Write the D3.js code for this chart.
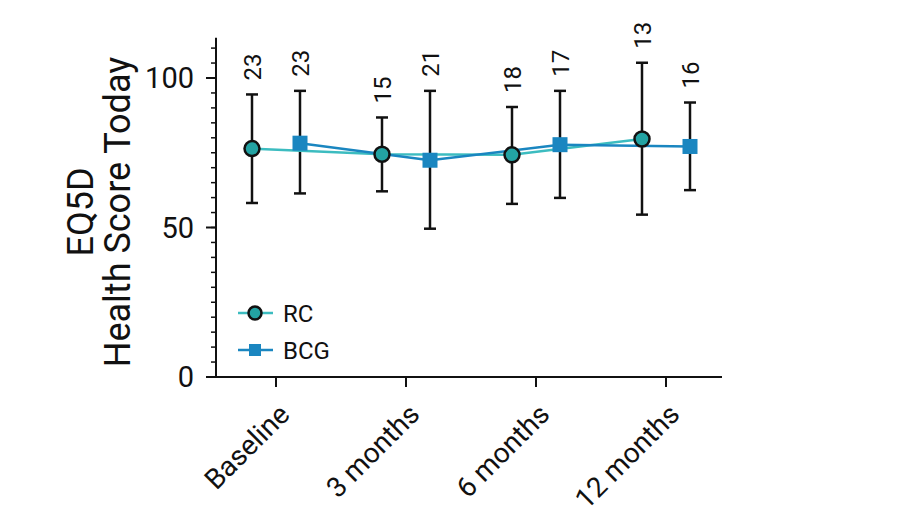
<!DOCTYPE html>
<html>
<head>
<meta charset="utf-8">
<script src="https://cdn.jsdelivr.net/npm/d3@7"></script>
<style>
  html, body { margin: 0; padding: 0; background: #fff; }
  svg text { font-family: Roboto, "Liberation Sans", sans-serif; fill: #111; }
</style>
</head>
<body>
<div id="chart"></div>
<script>
(function() {

  // data
  var categories = ["Baseline", "3 months", "6 months", "12 months"];
  var rcMean  = [76.4, 74.5, 74.3, 79.6];
  var rcLow   = [58.2, 62.1, 57.9, 54.3];
  var rcHigh  = [94.5, 86.8, 90.3, 105.1];
  var rcN     = [23, 15, 18, 13];
  var bcgMean = [78.2, 72.5, 77.7, 77.1];
  var bcgLow  = [61.4, 49.6, 59.9, 62.5];
  var bcgHigh = [95.7, 95.7, 95.7, 91.8];
  var bcgN    = [23, 21, 17, 16];
  var yTicks  = [0, 50, 100];

  var width = 918, height = 508;
  var rcLine = "#3cbcc0", rcFill = "#23a3a3";
  var bcgColor = "#1a86c0";

  var svg = d3.select("#chart").append("svg")
    .attr("width", width)
    .attr("height", height);

  var x = d3.scaleBand().domain(categories).range([211, 731]).padding(0);
  var y = d3.scaleLinear().domain([0, 100]).range([377, 78]);
  var offset = 24;

  var series = [
    { name: "RC", mean: rcMean, low: rcLow, high: rcHigh, n: rcN, dx: -offset },
    { name: "BCG", mean: bcgMean, low: bcgLow, high: bcgHigh, n: bcgN, dx: offset }
  ];

  var cx = function(s, i) {
    return x(categories[i]) + x.bandwidth() / 2 + s.dx;
  };

  // y axis
  var yAxis = svg.append("g").attr("transform", "translate(216,0)");
  yAxis.append("line")
    .attr("x1", 0).attr("x2", 0)
    .attr("y1", y(0)).attr("y2", y(113.5))
    .attr("stroke", "#111").attr("stroke-width", 2);
  yAxis.selectAll(".minor")
    .data(d3.range(0, 115, 5))
    .enter().append("line")
    .attr("class", "minor")
    .attr("x1", -5).attr("x2", 0)
    .attr("y1", function(d) { return y(d); })
    .attr("y2", function(d) { return y(d); })
    .attr("stroke", "#111").attr("stroke-width", 1.5);
  yAxis.selectAll(".major")
    .data(yTicks)
    .enter().append("line")
    .attr("x1", -10).attr("x2", 0)
    .attr("y1", function(d) { return y(d); })
    .attr("y2", function(d) { return y(d); })
    .attr("stroke", "#111").attr("stroke-width", 2);
  yAxis.selectAll(".ylab")
    .data(yTicks)
    .enter().append("text")
    .attr("x", -22)
    .attr("y", function(d) { return y(d); })
    .attr("dy", "0.36em")
    .attr("text-anchor", "end")
    .style("font-size", "29px")
    .text(function(d) { return d; });

  // x axis
  var xAxis = svg.append("g").attr("transform", "translate(0," + y(0) + ")");
  xAxis.append("line")
    .attr("x1", 215).attr("x2", 722)
    .attr("stroke", "#111").attr("stroke-width", 2);
  xAxis.selectAll(".xtick")
    .data(categories)
    .enter().append("line")
    .attr("x1", function(d) { return x(d) + x.bandwidth() / 2; })
    .attr("x2", function(d) { return x(d) + x.bandwidth() / 2; })
    .attr("y1", 0).attr("y2", 10)
    .attr("stroke", "#111").attr("stroke-width", 2);
  xAxis.selectAll(".xlab")
    .data(categories)
    .enter().append("text")
    .attr("transform", function(d) {
      return "translate(" + (x(d) + x.bandwidth() / 2 + 8) + ",32) rotate(-45)";
    })
    .attr("text-anchor", "end")
    .attr("dy", "0.36em")
    .style("font-size", "28px")
    .text(function(d) { return d; });

  // y title
  svg.append("text")
    .attr("transform", "translate(80,212) rotate(-90)")
    .attr("text-anchor", "middle")
    .attr("dy", "0.36em")
    .style("font-size", "36px")
    .text("EQ5D");
  svg.append("text")
    .attr("transform", "translate(117,212) rotate(-90)")
    .attr("text-anchor", "middle")
    .attr("dy", "0.36em")
    .style("font-size", "36px")
    .text("Health Score Today");

  // error bars
  series.forEach(function(s) {
    var g = svg.append("g").attr("class", "err");
    s.mean.forEach(function(m, i) {
      var px = cx(s, i);
      g.append("line")
        .attr("x1", px).attr("x2", px)
        .attr("y1", y(s.low[i])).attr("y2", y(s.high[i]))
        .attr("stroke", "#111").attr("stroke-width", 2.5);
      [s.low[i], s.high[i]].forEach(function(v) {
        g.append("line")
          .attr("x1", px - 6).attr("x2", px + 6)
          .attr("y1", y(v)).attr("y2", y(v))
          .attr("stroke", "#111").attr("stroke-width", 2.5);
      });
      svg.append("text")
        .attr("transform", "translate(" + px + "," + (y(s.high[i]) - 14) + ") rotate(-90)")
        .attr("dy", "0.36em")
        .style("font-size", "24px")
        .text(s.n[i]);
    });
  });

  // lines
  var line = d3.line()
    .x(function(d) { return d[0]; })
    .y(function(d) { return y(d[1]); });
  series.forEach(function(s) {
    var pts = s.mean.map(function(m, i) { return [cx(s, i), m]; });
    svg.append("path")
      .attr("d", line(pts))
      .attr("fill", "none")
      .attr("stroke", s.name === "RC" ? rcLine : bcgColor)
      .attr("stroke-width", 2.5);
  });

  // markers
  series.forEach(function(s) {
    s.mean.forEach(function(m, i) {
      if (s.name === "RC") {
        svg.append("circle")
          .attr("cx", cx(s, i)).attr("cy", y(m)).attr("r", 7.5)
          .attr("fill", rcFill).attr("stroke", "#111").attr("stroke-width", 2.5);
      } else {
        svg.append("rect")
          .attr("x", cx(s, i) - 7.5).attr("y", y(m) - 7.5)
          .attr("width", 15).attr("height", 15)
          .attr("fill", bcgColor);
      }
    });
  });

  // legend
  var legend = svg.append("g").attr("transform", "translate(238,313)");
  legend.append("line")
    .attr("x1", 0).attr("x2", 35).attr("y1", 0).attr("y2", 0)
    .attr("stroke", rcLine).attr("stroke-width", 2.5);
  legend.append("circle")
    .attr("cx", 17).attr("cy", 0).attr("r", 6.5)
    .attr("fill", rcFill).attr("stroke", "#111").attr("stroke-width", 2.5);
  legend.append("text")
    .attr("x", 45).attr("dy", "0.36em")
    .style("font-size", "24px").text("RC");
  legend.append("line")
    .attr("x1", 0).attr("x2", 35).attr("y1", 37).attr("y2", 37)
    .attr("stroke", bcgColor).attr("stroke-width", 2.5);
  legend.append("rect")
    .attr("x", 11).attr("y", 31).attr("width", 12).attr("height", 12)
    .attr("fill", bcgColor);
  legend.append("text")
    .attr("x", 45).attr("y", 37).attr("dy", "0.36em")
    .style("font-size", "24px").text("BCG");

})();
</script>
</body>
</html>
